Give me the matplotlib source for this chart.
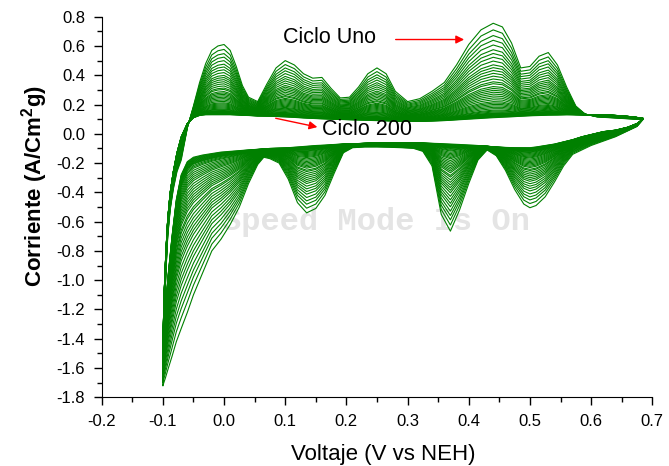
import matplotlib
matplotlib.use("Agg")
import matplotlib.pyplot as plt
import numpy as np
from matplotlib.ticker import MultipleLocator

# voltage grid of the forward (anodic) scan, V vs NEH
v_anod = [-0.100, -0.098, -0.095, -0.092, -0.088, -0.083, -0.077, -0.070, -0.060,
          -0.050, -0.040, -0.030, -0.020, -0.010, 0.000, 0.010, 0.020, 0.030,
          0.040, 0.055, 0.070, 0.085, 0.100, 0.115, 0.130, 0.145, 0.160, 0.175,
          0.190, 0.205, 0.220, 0.235, 0.250, 0.265, 0.280, 0.300, 0.320, 0.340,
          0.360, 0.380, 0.400, 0.420, 0.440, 0.455, 0.470, 0.485, 0.500, 0.515,
          0.530, 0.545, 0.560, 0.575, 0.590, 0.610, 0.630, 0.650, 0.670, 0.685]
# current, cycle 1 (A/Cm2g)
i_anod_c1 = [-1.72, -1.30, -0.95, -0.70, -0.52, -0.38, -0.26, -0.18, 0.04,
             0.19, 0.35, 0.48, 0.57, 0.60, 0.61, 0.57, 0.46, 0.33,
             0.25, 0.22, 0.34, 0.45, 0.50, 0.47, 0.41, 0.38, 0.385, 0.31,
             0.245, 0.25, 0.32, 0.41, 0.45, 0.41, 0.29, 0.22, 0.24, 0.29,
             0.35, 0.47, 0.61, 0.71, 0.755, 0.73, 0.62, 0.45, 0.46, 0.53,
             0.555, 0.47, 0.32, 0.19, 0.135, 0.115, 0.11, 0.105, 0.10, 0.10]
# current, cycle 200
i_anod_c200 = [-1.45, -1.10, -0.80, -0.58, -0.40, -0.26, -0.13, -0.02, 0.07,
               0.11, 0.125, 0.13, 0.13, 0.13, 0.13, 0.13, 0.128, 0.126,
               0.125, 0.122, 0.12, 0.118, 0.115, 0.112, 0.108, 0.105, 0.102, 0.10,
               0.098, 0.096, 0.094, 0.092, 0.09, 0.088, 0.086, 0.085, 0.085, 0.087,
               0.09, 0.095, 0.10, 0.105, 0.11, 0.113, 0.116, 0.12, 0.123, 0.125,
               0.127, 0.128, 0.13, 0.13, 0.13, 0.13, 0.128, 0.123, 0.115, 0.105]

# reverse (cathodic) scan
v_cat = [0.685, 0.675, 0.660, 0.640, 0.620, 0.600, 0.585, 0.570, 0.555, 0.540,
         0.525, 0.510, 0.500, 0.490, 0.475, 0.460, 0.445, 0.430, 0.415, 0.400,
         0.385, 0.370, 0.355, 0.340, 0.325, 0.310, 0.290, 0.270, 0.250, 0.230,
         0.210, 0.195, 0.180, 0.165, 0.150, 0.135, 0.120, 0.105, 0.090, 0.075,
         0.065, 0.055, 0.040, 0.025, 0.010, -0.005, -0.020, -0.035, -0.050, -0.060,
         -0.070, -0.078, -0.085, -0.091, -0.096, -0.100]
i_cat_c1 = [0.10, 0.05, 0.02, -0.02, -0.05, -0.08, -0.11, -0.14, -0.22, -0.33,
            -0.43, -0.49, -0.505, -0.48, -0.38, -0.25, -0.15, -0.11, -0.18, -0.34,
            -0.52, -0.665, -0.55, -0.22, -0.12, -0.10, -0.095, -0.092, -0.09, -0.09,
            -0.095, -0.13, -0.27, -0.42, -0.51, -0.54, -0.47, -0.31, -0.20, -0.17,
            -0.16, -0.21, -0.34, -0.50, -0.62, -0.72, -0.80, -0.95, -1.10, -1.22,
            -1.33, -1.42, -1.52, -1.60, -1.67, -1.72]
i_cat_c200 = [0.10, 0.07, 0.045, 0.025, 0.015, -0.005, -0.02, -0.04, -0.055, -0.07,
              -0.08, -0.09, -0.095, -0.095, -0.095, -0.093, -0.09, -0.085, -0.08, -0.077,
              -0.073, -0.07, -0.067, -0.065, -0.063, -0.062, -0.06, -0.06, -0.062, -0.065,
              -0.068, -0.07, -0.073, -0.077, -0.08, -0.085, -0.09, -0.095, -0.098, -0.10,
              -0.103, -0.106, -0.11, -0.115, -0.12, -0.125, -0.135, -0.145, -0.16, -0.19,
              -0.28, -0.45, -0.70, -0.95, -1.20, -1.45]

# relative peak height of each drawn cycle (1 = cycle 1, 0 = cycle 200)
cycle_frac = [1.00, 0.93, 0.87, 0.82, 0.77, 0.72, 0.68, 0.64, 0.60, 0.56,
              0.53, 0.50, 0.47, 0.44, 0.41, 0.38, 0.36, 0.33, 0.31, 0.29,
              0.27, 0.25, 0.23, 0.21, 0.19, 0.17, 0.155, 0.14, 0.125, 0.11,
              0.095, 0.08, 0.07, 0.06, 0.05, 0.045, 0.04, 0.035, 0.03, 0.025,
              0.02, 0.015, 0.01, 0.005, 0.0]

plt.rcParams['font.family'] = ['Liberation Sans', 'DejaVu Sans']
plt.rcParams['mathtext.fontset'] = 'custom'
plt.rcParams['mathtext.rm'] = 'Liberation Sans'
plt.rcParams['mathtext.bf'] = 'Liberation Sans:bold'

fig = plt.figure(figsize=(6.69, 4.66), dpi=100)
ax = fig.add_axes([0.152, 0.1474, 0.823, 0.8168])

v = np.concatenate([v_anod, v_cat])
c1 = np.concatenate([i_anod_c1, i_cat_c1])
c200 = np.concatenate([i_anod_c200, i_cat_c200])
for f in cycle_frac:
    ax.plot(v, c200 + f * (c1 - c200), color="#008000", lw=0.8, zorder=2)

ax.text(-0.003, -0.60, "Speed Mode Is On", family="Liberation Mono",
        fontweight="bold", fontsize=23, color="#e4e4e4", va="center", zorder=0)

ax.annotate("", xy=(0.397, 0.644), xytext=(0.276, 0.644),
            arrowprops=dict(arrowstyle="-|>", color="red", lw=1, mutation_scale=12))
ax.text(0.096, 0.658, "Ciclo Uno", fontsize=15.5, va="center")
ax.annotate("", xy=(0.157, 0.042), xytext=(0.08, 0.11),
            arrowprops=dict(arrowstyle="-|>", color="red", lw=1, mutation_scale=12))
ax.text(0.16, 0.03, "Ciclo 200", fontsize=15.5, va="center")

ax.set_xlim(-0.2, 0.7)
ax.set_ylim(-1.8, 0.8)
ax.xaxis.set_major_locator(MultipleLocator(0.1))
ax.xaxis.set_minor_locator(MultipleLocator(0.05))
ax.yaxis.set_major_locator(MultipleLocator(0.2))
ax.yaxis.set_minor_locator(MultipleLocator(0.1))
ax.xaxis.set_major_formatter(plt.FuncFormatter(lambda x, p: "{:.1f}".format(x).replace("-0.0", "0.0")))
ax.yaxis.set_major_formatter(plt.FuncFormatter(lambda x, p: "{:.1f}".format(x).replace("-0.0", "0.0")))
ax.tick_params(which="major", direction="out", length=6, width=1, labelsize=12, pad=6)
ax.tick_params(which="minor", direction="out", length=3.6, width=1)
for s in ["top", "right"]:
    ax.spines[s].set_visible(False)

ax.set_xlabel("Voltaje (V vs NEH)", fontsize=16)
ax.set_ylabel(r"Corriente (A/Cm$^{\mathbf{2}}$g)", fontsize=16, fontweight="bold")
ax.xaxis.set_label_coords(0.511, -0.123)
ax.yaxis.set_label_coords(-0.094, 0.554)

fig.savefig("out.png", dpi=100)
